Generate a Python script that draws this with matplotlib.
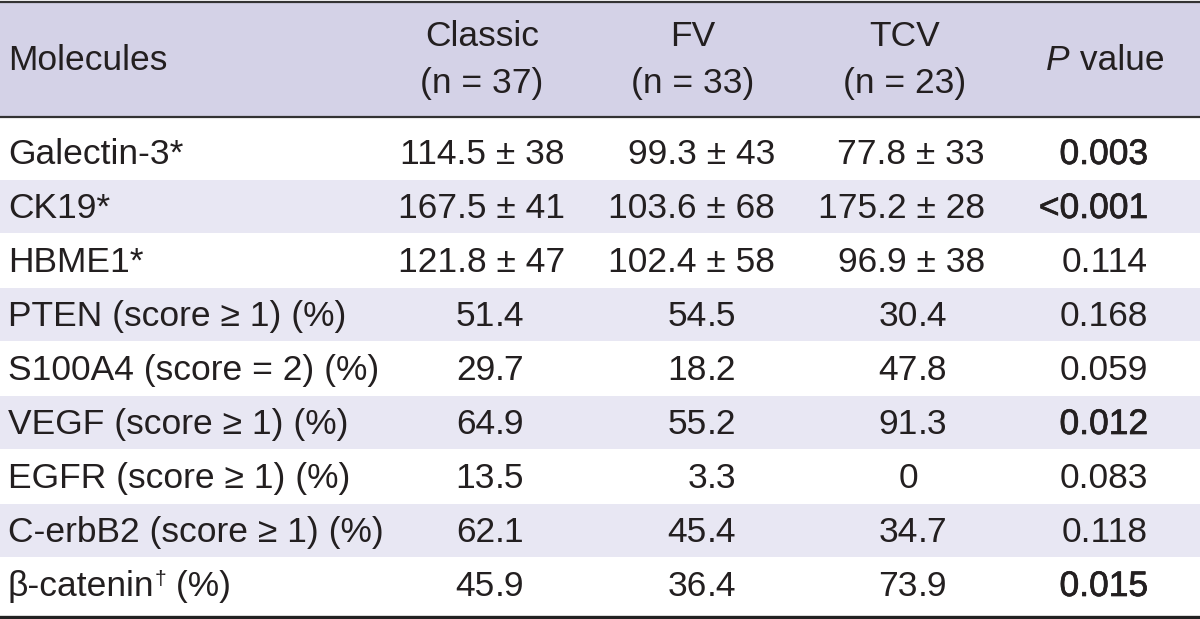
import matplotlib.pyplot as plt
import matplotlib.patheffects as pe
from matplotlib import font_manager

# table content
molecules = ["Galectin-3*", "CK19*", "HBME1*", "PTEN (score \u2265 1) (%)",
             "S100A4 (score = 2) (%)", "VEGF (score \u2265 1) (%)",
             "EGFR (score \u2265 1) (%)", "C-erbB2 (score \u2265 1) (%)", "\u03b2-catenin"]
groups = ["Classic", "FV", "TCV"]
n_counts = [37, 33, 23]

# mean +/- SD rows (first three)
classic_mean = [114.5, 167.5, 121.8]
classic_sd = [38, 41, 47]
fv_mean = [99.3, 103.6, 102.4]
fv_sd = [43, 68, 58]
tcv_mean = [77.8, 175.2, 96.9]
tcv_sd = [33, 28, 38]

# percentage rows (remaining six)
classic_pct = [51.4, 29.7, 64.9, 13.5, 62.1, 45.9]
fv_pct = [54.5, 18.2, 55.2, 3.3, 45.4, 36.4]
tcv_pct = [30.4, 47.8, 91.3, 0, 34.7, 73.9]

p_values = ["0.003", "<0.001", "0.114", "0.168", "0.059", "0.012", "0.083", "0.118", "0.015"]
significant = [True, True, False, False, False, True, False, False, True]

names = [f.name for f in font_manager.fontManager.ttflist]
main_font = "Liberation Sans Narrow" if "Liberation Sans Narrow" in names else "Liberation Sans"
plt.rcParams["font.family"] = [main_font, "DejaVu Sans"]

INK = "#231f20"
HEAD_BG = "#d4d2e7"
BAND_BG = "#e8e7f3"
FS = 25.5

W, H = 1200, 619
fig = plt.figure(figsize=(W / 100, H / 100), dpi=100)
ax = fig.add_axes([0, 0, 1, 1])
ax.set_xlim(0, W)
ax.set_ylim(H, 0)
ax.axis("off")

# layout (pixel units)
row_top0 = 125
row_h = 54
header_bottom = 117
group_centers = [482, 693, 905]
mean_right = [565, 775, 985]
pct_dec = [495, 707, 918]
p_right = 1148

# header band and rules
ax.axhspan(2, header_bottom, color=HEAD_BG, lw=0, zorder=0)
ax.axhline(1.5, color="#333333", lw=1.6)
ax.axhline(header_bottom, color="#333333", lw=1.6)
ax.axhline(616.5, color="#222222", lw=2.4)

for i in range(len(molecules)):
    if i % 2 == 1:
        top = row_top0 + i * row_h
        ax.axhspan(top + 1, top + row_h, color=BAND_BG, lw=0, zorder=0)

# header text
ax.text(8, 61, "Molecules", ha="left", va="center", fontsize=FS, color=INK)
for g, n, xc in zip(groups, n_counts, group_centers):
    ax.text(xc, 36, g, ha="center", va="center", fontsize=FS, color=INK)
    ax.text(xc, 83, f"(n = {n})", ha="center", va="center", fontsize=FS, color=INK)
tp = ax.text(1046, 61, "P", ha="left", va="center", fontsize=FS, color=INK, style="italic")
ax.annotate(" value", xy=(1, 0.5), xycoords=tp, ha="left", va="center",
            fontsize=FS, color=INK)

bold = [pe.withStroke(linewidth=0.5, foreground=INK)]

for i, name in enumerate(molecules):
    yb = row_top0 + i * row_h + row_h / 2 + 12
    t = ax.text(8, yb, name, ha="left", va="baseline", fontsize=FS, color=INK)
    if name.startswith("\u03b2"):
        t2 = ax.annotate("\u2020", xy=(1, 1), xycoords=t, ha="left", va="top",
                         fontsize=FS * 0.6, color=INK)
        ax.annotate(" (%)", xy=(1, 0), xycoords=(t2, t), ha="left", va="bottom",
                    fontsize=FS, color=INK)

    if i < 3:
        means = [classic_mean[i], fv_mean[i], tcv_mean[i]]
        sds = [classic_sd[i], fv_sd[i], tcv_sd[i]]
        for m, s, xr in zip(means, sds, mean_right):
            ax.text(xr, yb, f"{m:.1f} \u00b1 {s}", ha="right", va="baseline",
                    fontsize=FS, color=INK)
    else:
        j = i - 3
        for v, xd in zip([classic_pct[j], fv_pct[j], tcv_pct[j]], pct_dec):
            if v == 0:
                ip, fp = "0", ""
            else:
                ip, fp = f"{v:.1f}".split(".")
                fp = "." + fp
            ax.text(xd, yb, ip, ha="right", va="baseline", fontsize=FS, color=INK)
            if fp:
                ax.text(xd, yb, fp, ha="left", va="baseline", fontsize=FS, color=INK)

    pt = ax.text(p_right, yb, p_values[i], ha="right", va="baseline",
                 fontsize=FS, color=INK)
    if significant[i]:
        pt.set_path_effects(bold)

fig.savefig("out.png", dpi=100, facecolor="white")
